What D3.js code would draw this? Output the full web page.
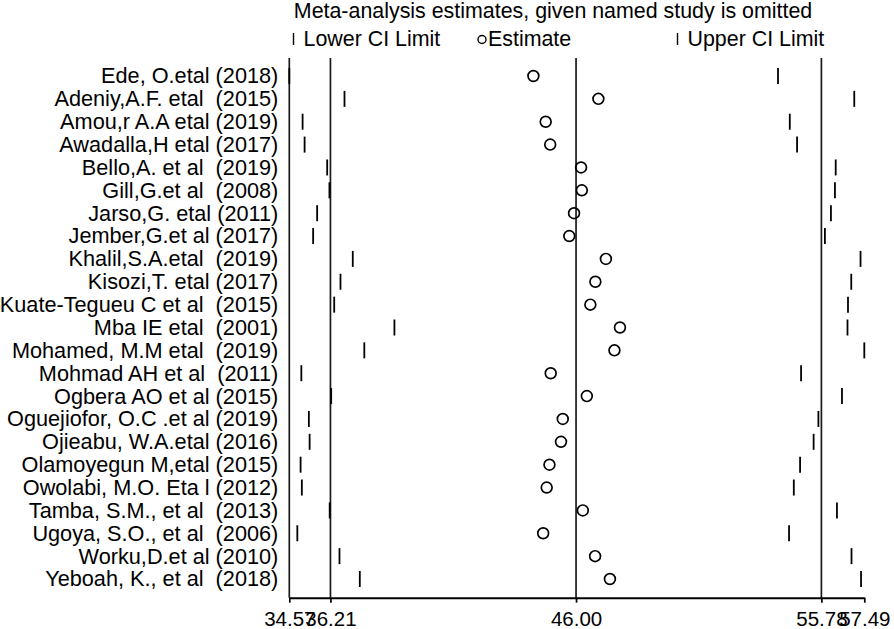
<!DOCTYPE html>
<html>
<head>
<meta charset="utf-8">
<script src="https://cdn.jsdelivr.net/npm/d3@7"></script>
<style>
  html, body { margin: 0; padding: 0; background: #fff; }
  svg { display: block; }
  text { font-family: "Liberation Sans", Arial, Helvetica, sans-serif; fill: #000; }
</style>
</head>
<body>
<svg id="chart" width="894" height="629"></svg>
<script>
const studies = [
  "Ede, O.etal (2018)",
  "Adeniy,A.F. etal  (2015)",
  "Amou,r A.A etal (2019)",
  "Awadalla,H etal (2017)",
  "Bello,A. et al  (2019)",
  "Gill,G.et al  (2008)",
  "Jarso,G. etal (2011)",
  "Jember,G.et al (2017)",
  "Khalil,S.A.etal  (2019)",
  "Kisozi,T. etal (2017)",
  "Kuate-Tegueu C et al  (2015)",
  "Mba IE etal  (2001)",
  "Mohamed, M.M etal  (2019)",
  "Mohmad AH et al  (2011)",
  "Ogbera AO et al (2015)",
  "Oguejiofor, O.C .et al (2019)",
  "Ojieabu, W.A.etal (2016)",
  "Olamoyegun M,etal (2015)",
  "Owolabi, M.O. Eta l (2012)",
  "Tamba, S.M., et al  (2013)",
  "Ugoya, S.O., et al  (2006)",
  "Worku,D.et al (2010)",
  "Yeboah, K., et al  (2018)"
];
const estimate = [44.30, 46.89, 44.79, 44.97, 46.20, 46.23, 45.92, 45.73, 47.19, 46.77, 46.57,
                  47.75, 47.53, 44.99, 46.43, 45.47, 45.40, 44.94, 44.83, 46.27, 44.69, 46.76, 47.35];
const lowerCI  = [34.57, 36.77, 35.10, 35.18, 36.08, 36.17, 35.68, 35.52, 37.10, 36.61, 36.36,
                  38.76, 37.56, 35.05, 36.24, 35.35, 35.38, 35.02, 35.07, 36.18, 34.89, 36.57, 37.38];
const upperCI  = [54.05, 57.09, 54.52, 54.81, 56.35, 56.32, 56.16, 55.92, 57.34, 56.97, 56.84,
                  56.82, 57.49, 54.97, 56.60, 55.66, 55.47, 54.93, 54.68, 56.40, 54.49, 56.98, 57.36];
const refLines = [36.21, 46.00, 55.78];
const xTicks = [34.57, 36.21, 46.00, 55.78, 57.49];
const titleText = "Meta-analysis estimates, given named study is omitted";
const legendItems = ["Lower CI Limit", "Estimate", "Upper CI Limit"];

const svg = d3.select("#chart");
const plotLeft = 289.3, plotRight = 864.3, plotTop = 58, axisY = 597.7;
const FS = "21.4px";

const x = d3.scaleLinear().domain([34.57, 57.49]).range([plotLeft, plotRight]);
const y = d3.scalePoint().domain(studies).range([76, 579]);

// Title
svg.append("text").attr("x", 553).attr("y", 18).attr("text-anchor", "middle")
  .style("font-size", FS).text(titleText);

// Legend
const lg = svg.append("g");
lg.append("line").attr("x1", 293.5).attr("x2", 293.5).attr("y1", 33).attr("y2", 45)
  .attr("stroke", "#000").attr("stroke-width", 1.4);
lg.append("text").attr("x", 303.5).attr("y", 46).style("font-size", FS).text(legendItems[0]);
lg.append("circle").attr("cx", 482).attr("cy", 39.5).attr("r", 4)
  .attr("fill", "none").attr("stroke", "#000").attr("stroke-width", 1.4);
lg.append("text").attr("x", 488).attr("y", 46).style("font-size", FS).text(legendItems[1]);
lg.append("line").attr("x1", 677.5).attr("x2", 677.5).attr("y1", 33).attr("y2", 45)
  .attr("stroke", "#000").attr("stroke-width", 1.4);
lg.append("text").attr("x", 687.5).attr("y", 46).style("font-size", FS).text(legendItems[2]);

// Reference lines
svg.append("g").selectAll("line").data(refLines).join("line")
  .attr("x1", d => x(d)).attr("x2", d => x(d))
  .attr("y1", plotTop).attr("y2", axisY)
  .attr("stroke", "#1a1a1a").attr("stroke-width", 1.7);

// Left frame line
svg.append("line").attr("x1", plotLeft).attr("x2", plotLeft).attr("y1", plotTop).attr("y2", axisY)
  .attr("stroke", "#1a1a1a").attr("stroke-width", 1.7);

// X axis
const xAxis = svg.append("g").attr("transform", `translate(0,${axisY})`)
  .call(d3.axisBottom(x).tickValues(xTicks).tickFormat(d3.format(".2f")).tickSize(5).tickPadding(9).tickSizeOuter(0));
xAxis.select(".domain").attr("stroke", "#000").attr("stroke-width", 2);
xAxis.selectAll(".tick line").attr("stroke", "#000").attr("stroke-width", 1.7);
xAxis.selectAll(".tick text").style("font-size", "20.5px")
  .style("font-family", "'Liberation Sans', Arial, sans-serif").attr("fill", "#000");

// Y labels
const yAxis = svg.append("g").attr("transform", `translate(${plotLeft},0)`)
  .call(d3.axisLeft(y).tickSize(0).tickPadding(11));
yAxis.select(".domain").remove();
yAxis.selectAll(".tick text").style("font-size", "21.7px").style("white-space", "pre")
  .style("font-family", "'Liberation Sans', Arial, sans-serif").attr("fill", "#000");

// Marks
const rows = studies.map((s, i) => ({s, est: estimate[i], lo: lowerCI[i], hi: upperCI[i]}));
const marks = svg.append("g");
marks.selectAll("line.lo").data(rows).join("line").attr("class", "lo")
  .attr("x1", d => x(d.lo)).attr("x2", d => x(d.lo))
  .attr("y1", d => y(d.s) - 8).attr("y2", d => y(d.s) + 8)
  .attr("stroke", "#000").attr("stroke-width", 1.8);
marks.selectAll("line.hi").data(rows).join("line").attr("class", "hi")
  .attr("x1", d => x(d.hi)).attr("x2", d => x(d.hi))
  .attr("y1", d => y(d.s) - 8).attr("y2", d => y(d.s) + 8)
  .attr("stroke", "#000").attr("stroke-width", 1.8);
marks.selectAll("circle").data(rows).join("circle")
  .attr("cx", d => x(d.est)).attr("cy", d => y(d.s)).attr("r", 5.4)
  .attr("fill", "none").attr("stroke", "#000").attr("stroke-width", 1.7);
</script>
</body>
</html>
